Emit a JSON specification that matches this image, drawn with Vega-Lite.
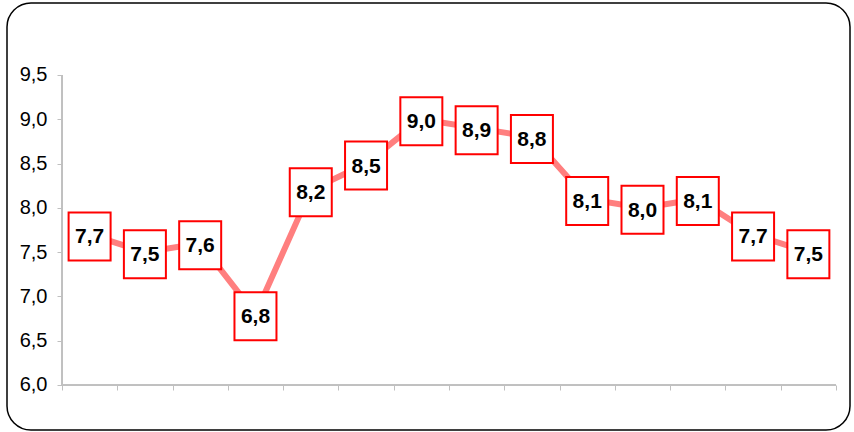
{
  "$schema": "https://vega.github.io/schema/vega-lite/v6.json",
  "width": 854,
  "height": 432,
  "autosize": {"type": "fit", "contains": "padding"},
  "padding": {"left": 7, "right": 4, "top": 3, "bottom": 2},
  "background": "white",
  "config": {
    "locale": {"number": {"decimal": ",", "thousands": ".", "grouping": [3], "currency": ["", ""]}},
    "view": {"stroke": "#000000", "strokeWidth": 1.5, "cornerRadius": 24},
    "font": "Liberation Sans"
  },
  "data": {
    "values": [
      {"i": 0, "v": 7.7}, {"i": 1, "v": 7.5}, {"i": 2, "v": 7.6}, {"i": 3, "v": 6.8},
      {"i": 4, "v": 8.2}, {"i": 5, "v": 8.5}, {"i": 6, "v": 9.0}, {"i": 7, "v": 8.9},
      {"i": 8, "v": 8.8}, {"i": 9, "v": 8.1}, {"i": 10, "v": 8.0}, {"i": 11, "v": 8.1},
      {"i": 12, "v": 7.7}, {"i": 13, "v": 7.5}
    ]
  },
  "encoding": {
    "x": {
      "field": "i", "type": "quantitative",
      "scale": {"domain": [-1.494, 13.753], "nice": false, "zero": false},
      "axis": {
        "orient": "bottom", "offset": -45, "domain": false, "grid": false, "labels": false,
        "title": null, "values": [-0.5,0.5,1.5,2.5,3.5,4.5,5.5,6.5,7.5,8.5,9.5,10.5,11.5,12.5,13.5],
        "tickColor": "#c0c0c0", "tickSize": 5, "tickWidth": 1
      }
    },
    "y": {
      "field": "v", "type": "quantitative",
      "scale": {"domain": [5.4919, 10.3129], "nice": false, "zero": false},
      "axis": {
        "orient": "left", "offset": -55, "domain": false, "grid": false, "title": null,
        "values": [6, 6.5, 7, 7.5, 8, 8.5, 9, 9.5], "format": ".1f",
        "tickColor": "#c0c0c0", "tickSize": 5, "labelPadding": 10,
        "labelFontSize": 20, "labelColor": "#000000", "labelFont": "Liberation Sans"
      }
    }
  },
  "layer": [
    {
      "mark": {"type": "rule", "color": "#c0c0c0", "strokeWidth": 1},
      "encoding": {"x": {"datum": -0.5}, "y": {"datum": 6}, "y2": {"datum": 9.5}}
    },
    {
      "mark": {"type": "rule", "color": "#c0c0c0", "strokeWidth": 1},
      "encoding": {"y": {"datum": 6}, "x": {"datum": -0.5}, "x2": {"datum": 13.5}}
    },
    {
      "mark": {"type": "line", "color": "#ff7f7f", "strokeWidth": 6}
    },
    {
      "mark": {
        "type": "point", "filled": true, "fill": "#ffffff", "stroke": "#ff0000",
        "strokeWidth": 2, "opacity": 1, "fillOpacity": 1, "size": 2304, "yOffset": 2,
        "shape": "M-0.875,-1H0.875V1H-0.875Z"
      }
    },
    {
      "mark": {"type": "text", "fontSize": 21, "fontWeight": "bold", "color": "#000000", "font": "Liberation Sans", "baseline": "middle", "yOffset": 3},
      "encoding": {"text": {"field": "v", "type": "quantitative", "format": ".1f"}}
    }
  ]
}
